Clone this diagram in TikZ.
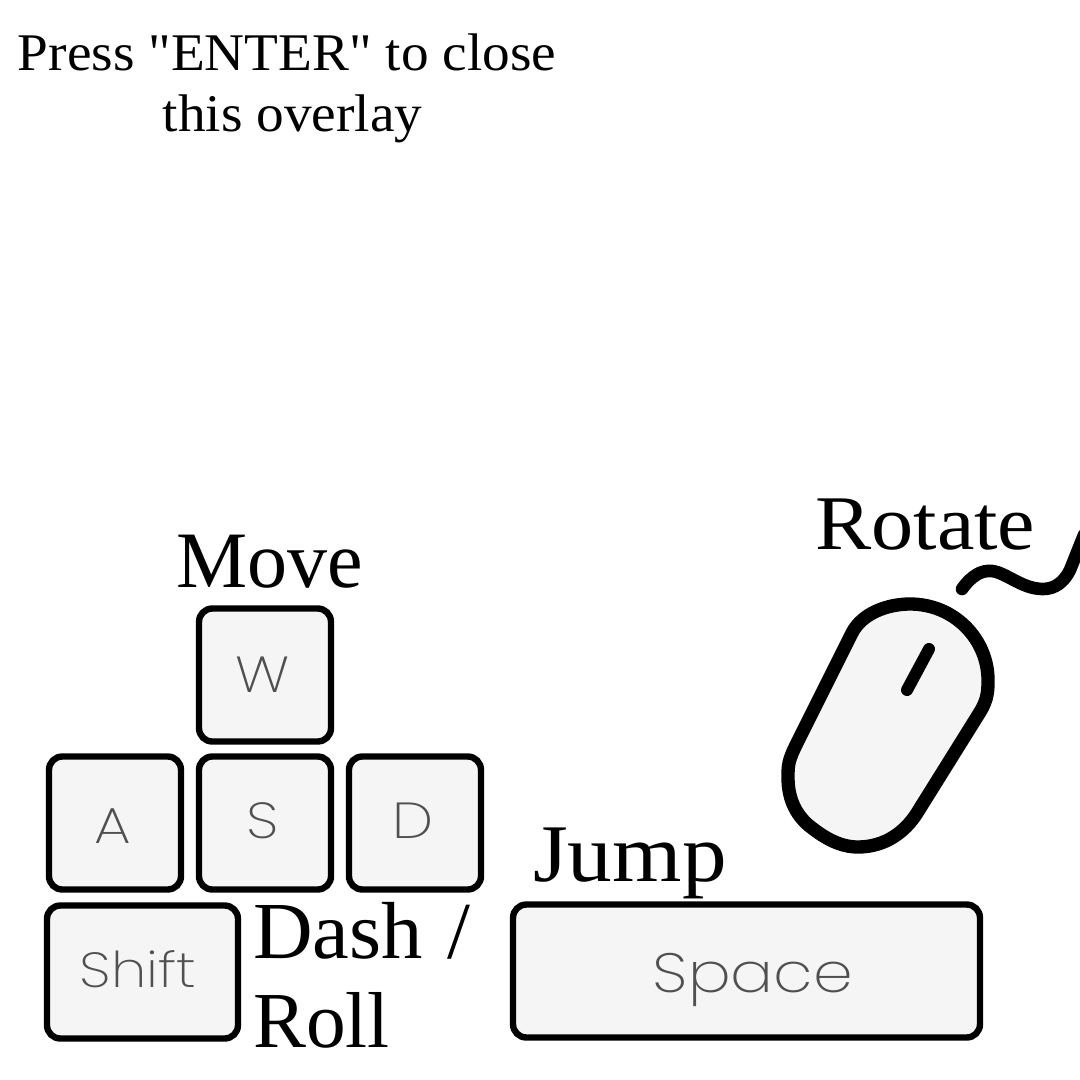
\documentclass[tikz,border=0pt]{standalone}
\usepackage{fontspec}
\newfontfamily\serifplain{Liberation Serif}
\newfontfamily\serifmid[FakeStretch=1.045]{Liberation Serif}
\newfontfamily\serifwide[FakeStretch=1.09]{Liberation Serif}
\newfontfamily\serifdash[FakeStretch=1.02]{Liberation Serif}
\newfontfamily\keyfont[FakeStretch=1.15]{Poppins ExtraLight}
\definecolor{keyfill}{HTML}{F5F5F5}
\definecolor{keytext}{HTML}{505050}
\tikzset{
  keybox/.style={draw=black,fill=keyfill,line width=4.8pt,rounded corners=10pt,inner sep=0pt},
  keylabel/.style={text=keytext,inner sep=0pt,anchor=base,font=\keyfont\fontsize{38}{38}\selectfont},
  biglabel/.style={inner sep=0pt,anchor=base west,text=black,font=\serifplain\fontsize{60}{60}\selectfont},
  toplabel/.style={inner sep=0pt,anchor=base,text=black,font=\serifmid\fontsize{39.7}{40}\selectfont},
  mouseline/.style={draw=black,line cap=round,line join=round}
}
\begin{document}
\begin{tikzpicture}[x=0.75pt,y=-0.75pt]
\useasboundingbox (0,0) rectangle (1080,1080);
\clip (0,0) rectangle (1080,1080);
\newcommand{\keyrect}[5]{\node[keybox,minimum width=#3*0.75pt,minimum height=#4*0.75pt] (#5) at (#1,#2) {};}
\keyrect{265}{675}{132}{133}{keyW}
\keyrect{115}{823}{132}{133}{keyA}
\keyrect{265}{823}{132}{133}{keyS}
\keyrect{415}{823}{132}{133}{keyD}
\keyrect{142.5}{972}{191}{133}{keyShift}
\keyrect{746.5}{971}{467}{133}{keySpace}
\node[keylabel] (lW) at (263,692) {W};
\node[keylabel] (lA) at (113,843) {A};
\node[keylabel] (lS) at (263,838) {S};
\node[keylabel] (lD) at (413,838) {D};
\node[keylabel,font=\keyfont\fontsize{37}{37}\selectfont] (lShift) at (138,987) {Shift};
\node[keylabel,font=\keyfont\fontsize{41.5}{42}\selectfont] (lSpace) at (753,992) {Space};
\node[toplabel] (t1) at (287,71) {Press "ENTER" to close};
\node[toplabel] (t2) at (292.5,132) {this overlay};
\node[biglabel] (move) at (176,587) {Move};
\node[biglabel,font=\serifwide\fontsize{58}{58}\selectfont] (rotate) at (815,549) {Rotate};
\node[biglabel,font=\serifwide\fontsize{61.4}{60}\selectfont] (jump) at (533,881) {Jump};
\node[biglabel,font=\serifdash\fontsize{60.7}{60}\selectfont] (dash) at (253,958) {Dash\hspace{3pt} /};
\node[biglabel,font=\serifplain\fontsize{59.5}{60}\selectfont] (roll) at (253,1047) {Roll};
% mouse
\path[mouseline,fill=keyfill,line width=10pt] (852,633)
  .. controls (862,613) and (888,604) .. (910,604)
  .. controls (955,604) and (988,640) .. (988,680)
  .. controls (988,690) and (988,699) .. (980,712)
  -- (917,813)
  .. controls (905,832) and (885,847) .. (858,847)
  .. controls (840,847) and (825,838) .. (812,828)
  .. controls (797,817) and (788,800) .. (788,778)
  .. controls (788,765) and (788,761) .. (797,743)
  -- cycle;
\coordinate (wheelA) at (929,649);
\coordinate (wheelB) at (907,690);
\draw[mouseline,line width=9pt] (wheelA) -- (wheelB);
\coordinate (cordA) at (962,589);
\coordinate (cordB) at (1084,535);
\draw[mouseline,line width=9.5pt] (cordA)
  .. controls (972,575) and (982,570) .. (992,571)
  .. controls (1007,573) and (1022,589) .. (1043,589)
  .. controls (1055,589) and (1064,582) .. (1070,570)
  -- (cordB);
\end{tikzpicture}
\end{document}
